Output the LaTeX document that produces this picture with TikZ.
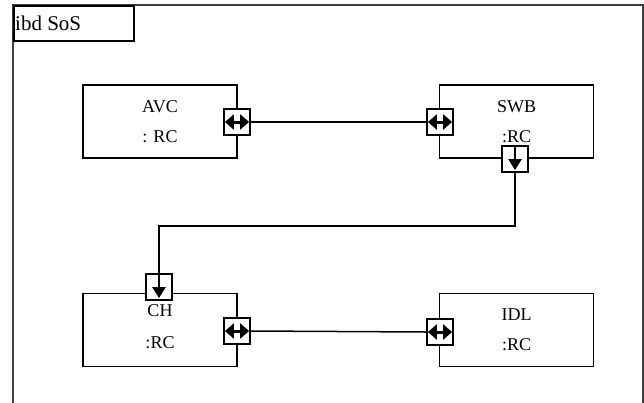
\documentclass[tikz,border=0pt]{standalone}
\usepackage{fontspec}
\setmainfont{Liberation Serif}
\usetikzlibrary{arrows.meta,positioning,calc}

\begin{document}
\begin{tikzpicture}[
  x=1pt, y=-1pt,
  font=\fontsize{18}{21}\selectfont,
  block/.style={draw, line width=1.5pt, minimum width=154pt, minimum height=73pt,
                align=center, inner sep=0pt},
  port/.style={draw, line width=2.2pt, minimum size=26pt, inner sep=0pt, fill=white},
  biarrow/.style={line width=3pt, {Triangle[length=9pt,width=15pt]}-{Triangle[length=9pt,width=15pt]},
                  shorten <=2pt, shorten >=2pt},
  inarrow/.style={line width=2.4pt, -{Triangle[length=11pt,width=13pt]}, shorten >=3pt},
  link/.style={line width=1.5pt}
]
\useasboundingbox (0,0) rectangle (644,402);

% frame
\begin{scope}
\clip (0,0) rectangle (644,402);
\draw[line width=1.5pt, black!75] (13,410) -- (13,5) -- (643,5) -- (643,410);
\end{scope}
\node[draw, line width=1.5pt, minimum width=120pt, minimum height=35pt, inner sep=0pt,
      anchor=north west] (title) at (13,5) {};
\node[anchor=west, inner sep=0pt, font=\fontsize{21}{23}\selectfont] (titletext) at (15,23) {ibd SoS};

% blocks
\node[block] (avc) at (160,121.5) {AVC\\[9pt]: RC};
\node[block] (swb) at (516.5,121.5) {SWB\\[9pt]:RC};
\node[block] (ch)  at (160,330) {};
\node[block] (idl) at (516.5,330) {IDL\\[9pt]:RC};
\node (chname) at (160,311) {CH};
\node (chtype) at (160,343) {:RC};

% ports
\node[port] (avcp) at (237,122) {};
\node[port] (swbp) at (440,122) {};
\node[port] (swbq) at (515,159) {};
\node[port] (chp)  at (159,287) {};
\node[port] (chq)  at (237,331) {};
\node[port] (idlp) at (440,332) {};

% connectors
\draw[link] (avcp.east) -- (swbp.west);
\draw[link] (chq.east) -- (idlp.west);
\draw[link] (swbq.south) -- ++(0,53) -| (chp.north);

% port flow arrows
\draw[biarrow] (avcp.west) -- (avcp.east);
\draw[biarrow] (swbp.west) -- (swbp.east);
\draw[biarrow] (chq.west) -- (chq.east);
\draw[biarrow] (idlp.west) -- (idlp.east);
\draw[inarrow] (swbq.north) -- (swbq.south);
\draw[inarrow] (chp.north) -- (chp.south);
\end{tikzpicture}
\end{document}
